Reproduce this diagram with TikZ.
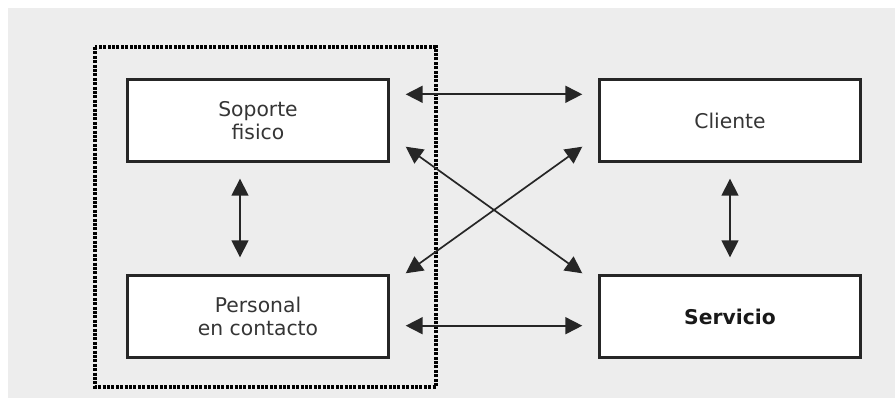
\documentclass[tikz,border=0pt]{standalone}
\usepackage{fontspec}
\setmainfont{DejaVu Sans}
\usetikzlibrary{arrows.meta}
\definecolor{bggray}{HTML}{EDEDED}
\definecolor{txtgray}{HTML}{353535}
\tikzset{
  box/.style={draw=black!85, line width=2.4pt, fill=white, minimum width=261pt, minimum height=82pt,
    align=center, text=txtgray, font=\fontsize{20.3}{22.5}\selectfont, inner sep=0pt},
  link/.style={draw=black!85, line width=1.7pt, {Triangle[length=17pt,width=17pt]}-{Triangle[length=17pt,width=17pt]}},
  group/.style={draw=black, line width=3.4pt, dash pattern=on 3pt off 1.4pt}
}
\begin{document}
\begin{tikzpicture}[x=1pt,y=-1pt]
\useasboundingbox (0,0) rectangle (895,398);
\fill[white] (0,0) rectangle (895,398);
\fill[bggray] (8,8) rectangle (895,398);
\draw[group] (95,47) rectangle (436,387);
\node[box] (soporte) at (258,120.5) {Soporte\\fisico};
\node[box] (personal) at (258,316.5) {Personal\\en contacto};
\node[box] (cliente) at (730,120.5) {Cliente};
\node[box, font=\fontsize{20.3}{22.5}\selectfont\bfseries, text=black!90] (servicio) at (730,316.5) {Servicio};
% horizontal
\draw[link] ([xshift=16pt,yshift=-16pt]soporte.north east) -- ([xshift=-16pt,yshift=-16pt]cliente.north west);
\draw[link] ([xshift=16pt,yshift=33pt]personal.south east) -- ([xshift=-16pt,yshift=33pt]servicio.south west);
% diagonals
\draw[link] ([xshift=16pt,yshift=16pt]soporte.south east) -- ([xshift=-16pt,yshift=1pt]servicio.north west);
\draw[link] ([xshift=-16pt,yshift=16pt]cliente.south west) -- ([xshift=16pt,yshift=1pt]personal.north east);
% verticals
\draw[link] ([xshift=-18pt,yshift=-16pt]soporte.south) -- ([xshift=-18pt,yshift=17pt]personal.north);
\draw[link] ([yshift=-16pt]cliente.south) -- ([yshift=17pt]servicio.north);
\end{tikzpicture}
\end{document}
